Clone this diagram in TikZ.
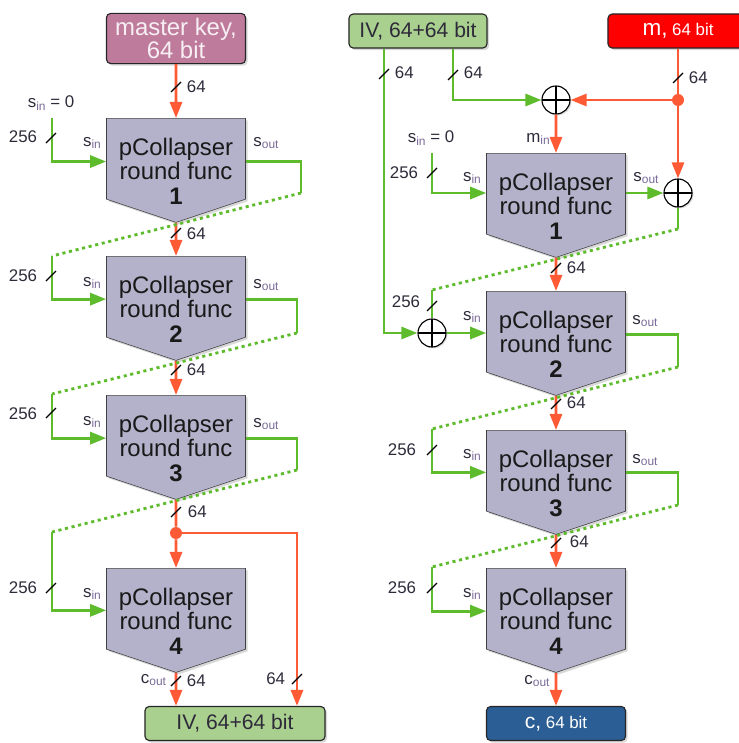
\documentclass[tikz,border=0pt]{standalone}
\usepackage{fontspec}
\setmainfont{Liberation Sans}
\usepackage{tikz}
\usetikzlibrary{positioning,arrows.meta,shapes.symbols,shadows,calc}
\definecolor{wirered}{HTML}{FF5A36}
\definecolor{wiregreen}{HTML}{5DBB2C}
\definecolor{roundfill}{HTML}{B4B1CA}
\definecolor{ivfill}{HTML}{A9D08E}
\definecolor{keyfill}{HTML}{BF7B9B}
\definecolor{msgfill}{HTML}{FF0000}
\definecolor{ctfill}{HTML}{2B5E94}
\definecolor{labeltext}{HTML}{2E2A3A}
\definecolor{subtext}{HTML}{7A6A98}
\newcommand{\lowtag}[1]{\raisebox{-0.25ex}{\fontsize{8.5}{8.5}\selectfont\color{subtext}#1}}
\newcommand{\roundlabel}[1]{\raisebox{-15.8pt}[0pt][0pt]{\begin{tabular}{@{}c@{}}pCollapser\\round func\\\textbf{#1}\end{tabular}}}

\begin{document}
\begin{tikzpicture}[x=0.025cm, y=-0.025cm, font=\fontsize{12}{14}\selectfont, text=labeltext,
  roundbox/.style={signal, signal from=nowhere, signal to=south, signal pointer angle=143,
                   draw=black!75, fill=roundfill, minimum width=3.475cm, minimum height=2.5cm,
                   inner sep=0pt, font=\fontsize{17}{17.5}\selectfont, text=black!90, anchor=north,
                   drop shadow={opacity=0.3, shadow xshift=1.5pt, shadow yshift=-1.5pt}},
  databox/.style={draw=black!85, thick, rounded corners=3pt, minimum height=0.85cm, align=center,
                  drop shadow={opacity=0.3, shadow xshift=1.5pt, shadow yshift=-1.5pt}},
  xorop/.style={circle, draw, thick, fill=white, minimum size=0.7cm, inner sep=0pt,
                drop shadow={opacity=0.3, shadow xshift=1pt, shadow yshift=-1pt},
                path picture={\draw[thick] (path picture bounding box.north) -- (path picture bounding box.south)
                                           (path picture bounding box.west) -- (path picture bounding box.east);}},
  joint/.style={circle, fill=wirered, minimum size=0.3cm, inner sep=0pt},
  rwire/.style={draw=wirered, line width=2pt},
  rarr/.style={rwire, -{Triangle[length=0.4cm, width=0.3cm]}},
  gwire/.style={draw=wiregreen, line width=2pt},
  garr/.style={gwire, -{Triangle[length=0.4cm, width=0.3cm]}},
  gdots/.style={gwire, dash pattern=on 2.2pt off 2.6pt},
  bus/.style={draw=black, line width=0.9pt}]
\useasboundingbox (0,0) rectangle (738,743);

% left chain: key schedule
\node[databox, fill=keyfill, minimum width=3.475cm, minimum height=1.175cm, text=white!88!keyfill,
      font=\fontsize{17}{16.5}\selectfont] (mkey) at (176,38.5) {master key,\\64 bit};
\node[roundbox] (rA1) at (176,118) {\roundlabel{1}};
\node[roundbox] (rA2) at (176,256) {\roundlabel{2}};
\node[roundbox] (rA3) at (176,395) {\roundlabel{3}};
\node[roundbox] (rA4) at (176,568) {\roundlabel{4}};
\node[databox, fill=ivfill, minimum width=4.5cm, font=\fontsize{15}{15}\selectfont] (ivout) at (235,723.5) {IV, 64+64 bit};
\node[joint] (jA) at (176,533) {};

% right chain: encryption
\node[databox, fill=ivfill, minimum width=3.45cm, font=\fontsize{15}{15}\selectfont] (ivin) at (418,31) {IV, 64+64 bit};
\node[databox, fill=msgfill, minimum width=3.5cm, text=white] (msg) at (678,31)
  {{\fontsize{16}{16}\selectfont m,} 64 bit};
\node[xorop] (xM) at (556,100) {};
\node[joint] (jM) at (678,100) {};
\node[roundbox] (rB1) at (556,153) {\roundlabel{1}};
\node[xorop] (xO) at (678,193) {};
\node[xorop] (xS) at (432,333) {};
\node[roundbox] (rB2) at (556,291) {\roundlabel{2}};
\node[roundbox] (rB3) at (556,430) {\roundlabel{3}};
\node[roundbox] (rB4) at (556,568) {\roundlabel{4}};
\node[databox, fill=ctfill, minimum width=3.475cm, text=white] (ct) at (556,723.5)
  {{\fontsize{15}{15}\selectfont c,} 64 bit};

% bends of the state wires
\coordinate (sA1) at (52,118);
\coordinate (tA1) at (301,193); \coordinate (bA2) at (52,256);
\coordinate (tA2) at (297,333); \coordinate (bA3) at (52,394);
\coordinate (tA3) at (297,470); \coordinate (bA4) at (52,532);
\coordinate (sB1) at (432,153);
\coordinate (tB1) at (678,229); \coordinate (bB2) at (432,290);
\coordinate (tB2) at (678,367); \coordinate (bB3) at (432,429);
\coordinate (tB3) at (678,505); \coordinate (bB4) at (432,567);

% left wires
\draw[rarr] (mkey) -- (rA1);
\draw[rarr] (rA1) -- (rA2);
\draw[rarr] (rA2) -- (rA3);
\draw[rwire] (rA3) -- (jA);
\draw[rarr] (jA) -- (rA4);
\draw[rarr] (jA) -| ([xshift=1.55cm]ivout.north);
\draw[rarr] (rA4) -- (ivout.north -| rA4);
\draw[garr] (sA1) |- ([yshift=-0.07cm]rA1.west);
\draw[gwire] ([yshift=-0.07cm]rA1.east) -| (tA1);
\draw[gdots] (tA1) -- (bA2);
\draw[garr] (bA2) |- ([yshift=-0.06cm]rA2.west);
\draw[gwire] ([yshift=-0.06cm]rA2.east) -| (tA2);
\draw[gdots] (tA2) -- (bA3);
\draw[garr] (bA3) |- ([yshift=-0.06cm]rA3.west);
\draw[gwire] ([yshift=-0.06cm]rA3.east) -| (tA3);
\draw[gdots] (tA3) -- (bA4);
\draw[garr] (bA4) |- ([yshift=-0.04cm]rA4.west);

% right wires
\draw[garr] ([xshift=-0.85cm]ivin.south) |- (xS);
\draw[garr] ([xshift=0.875cm]ivin.south) |- (xM);
\draw[rwire] (msg) -- (jM);
\draw[rarr] (jM) -- (xM);
\draw[rarr] (jM) -- (xO);
\draw[rarr] (xM) -- (rB1);
\draw[garr] (sB1) |- (rB1.west |- xO);
\draw[garr] (rB1.east |- xO) -- (xO);
\draw[gwire] (xO) -- (tB1);
\draw[gdots] (tB1) -- (bB2);
\draw[gwire] (bB2) -- (xS);
\draw[garr] (xS) -- (rB2.west |- xS);
\draw[rarr] (rB1) -- (rB2);
\draw[rarr] (rB2) -- (rB3);
\draw[rarr] (rB3) -- (rB4);
\draw[rarr] (rB4) -- (ct);
\draw[gwire] ([yshift=-0.06cm]rB2.east) -| (tB2);
\draw[gdots] (tB2) -- (bB3);
\draw[garr] (bB3) |- ([yshift=-0.04cm]rB3.west);
\draw[gwire] ([yshift=-0.04cm]rB3.east) -| (tB3);
\draw[gdots] (tB3) -- (bB4);
\draw[garr] (bB4) |- ([yshift=-0.06cm]rB4.west);

% bus width marks
\foreach \x/\y in {176/87, 176/233, 176/370, 176/512, 176/681, 297/679,
                   51/138, 51/276, 51/413, 51/588,
                   384/74, 453/75, 678/78, 556/268, 556/404, 556/543,
                   432/173, 432/306, 432/450, 432/588}
  \draw[bus] (\x,\y) +(-5,5) -- +(5,-5);

% labels left
\node[anchor=west] (wK) at (182,87) {64};
\node[anchor=west] (wA1) at (182,234) {64};
\node[anchor=west] (wA2) at (182,370) {64};
\node[anchor=west] (wA3) at (183,512) {64};
\node[anchor=west] (wA4) at (182,681) {64};
\node[anchor=east] (wF) at (290,679) {64};
\node[anchor=east] (cA) at (171,680) {c\lowtag{out}};
\node (zA) at (51,103) {s\lowtag{in} = 0};
\node[anchor=east] (nA1) at (42,137) {256};
\node[anchor=east] (nA2) at (42,276) {256};
\node[anchor=east] (nA3) at (42,414) {256};
\node[anchor=east] (nA4) at (42,588) {256};
\node (iA1) at (92,143) {s\lowtag{in}};
\node (iA2) at (92,283) {s\lowtag{in}};
\node (iA3) at (92,422) {s\lowtag{in}};
\node (iA4) at (92,594) {s\lowtag{in}};
\node (oA1) at (266,143) {s\lowtag{out}};
\node (oA2) at (266,285) {s\lowtag{out}};
\node (oA3) at (266,424) {s\lowtag{out}};

% labels right
\node[anchor=west] (wI1) at (390,73) {64};
\node[anchor=west] (wI2) at (459,73) {64};
\node[anchor=west] (wM) at (684,78) {64};
\node (mI) at (538,139) {m\lowtag{in}};
\node (zB) at (431,138) {s\lowtag{in} = 0};
\node[anchor=east] (nB1) at (423,173) {256};
\node[anchor=east] (nB2) at (425,302) {256};
\node[anchor=east] (nB3) at (421,450) {256};
\node[anchor=east] (nB4) at (421,588) {256};
\node (iB1) at (472,178) {s\lowtag{in}};
\node (iB2) at (472,317) {s\lowtag{in}};
\node (iB3) at (472,455) {s\lowtag{in}};
\node (iB4) at (472,594) {s\lowtag{in}};
\node (oB1) at (646,178) {s\lowtag{out}};
\node (oB2) at (645,321) {s\lowtag{out}};
\node (oB3) at (645,460) {s\lowtag{out}};
\node[anchor=west] (wB1) at (562,268) {64};
\node[anchor=west] (wB2) at (562,403) {64};
\node[anchor=west] (wB3) at (565,542) {64};
\node (cB) at (537,681) {c\lowtag{out}};
\end{tikzpicture}
\end{document}
